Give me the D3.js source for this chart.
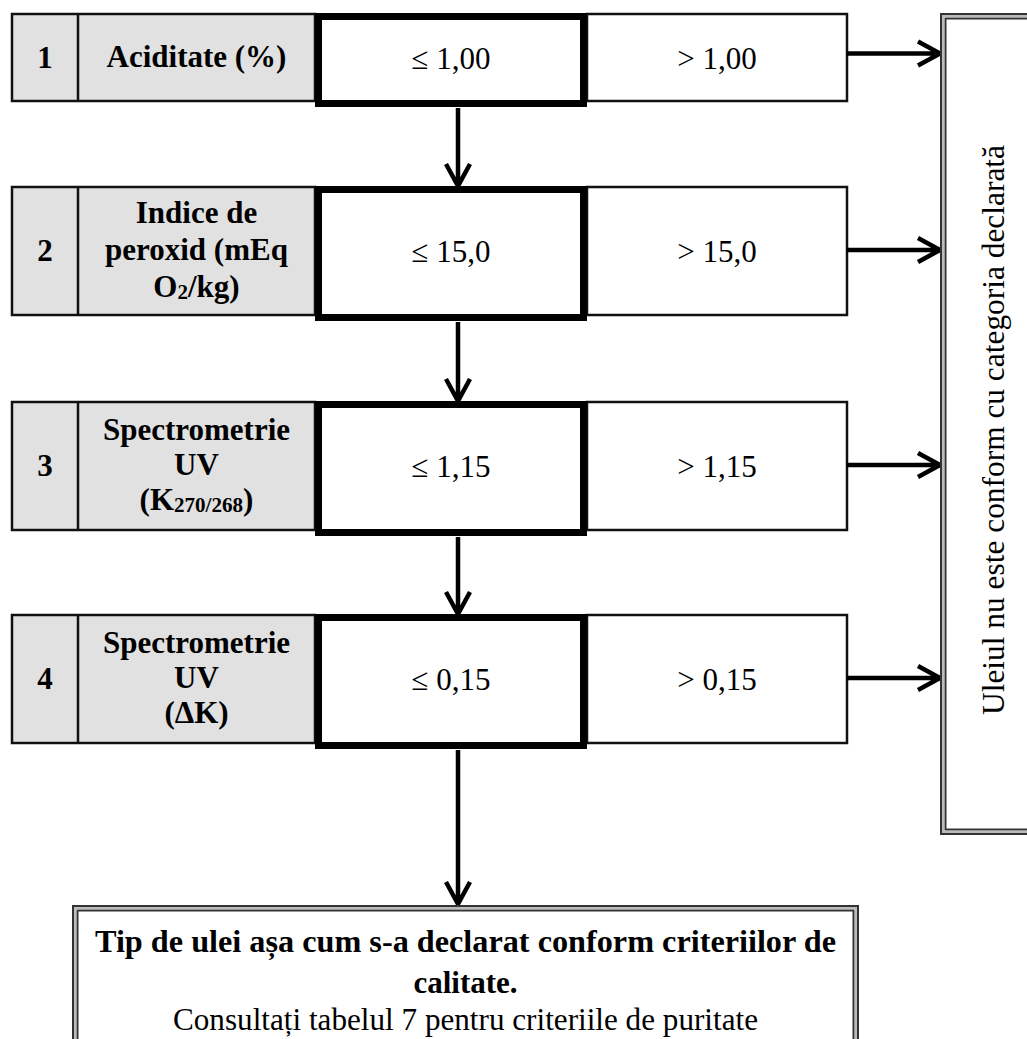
<!DOCTYPE html>
<html><head><meta charset="utf-8">
<script src="https://cdn.jsdelivr.net/npm/d3@7"></script>
<style>body{margin:0;background:#fff}svg{display:block}</style>
</head><body>
<script>
// ---- data ----
const stepNumbers = ["1","2","3","4"];
const stepLabels = [
  [["Aciditate (%)"]],
  [["Indice de"],["peroxid (mEq"],["O","2","/kg)"]],
  [["Spectrometrie"],["UV"],["(K","270/268",")"]],
  [["Spectrometrie"],["UV"],["(ΔK)"]]
];
const passValues = ["≤ 1,00","≤ 15,0","≤ 1,15","≤ 0,15"];
const failValues = ["> 1,00","> 15,0","> 1,15","> 0,15"];
const rejectText = "Uleiul nu este conform cu categoria declarată";
const finalLines = [
  {t:"Tip de ulei așa cum s-a declarat conform criteriilor de", bold:true},
  {t:"calitate.", bold:true},
  {t:"Consultați tabelul 7 pentru criteriile de puritate", bold:false}
];

// ---- layout ----
const W = 1027, H = 1039;
const rowTop = [14, 187, 402, 615];
const rowH = [87, 128, 128, 128];
const colX = d3.scaleOrdinal().domain(["num","label","pass","fail","end"]).range([12, 78, 315, 587, 847]);
const font = "'Liberation Serif','Times New Roman',serif";
const fs = 31;

const svg = d3.select("body").append("svg").attr("width", W).attr("height", H);

const rows = stepNumbers.map((n,i)=>({i, n, label: stepLabels[i], pass: passValues[i], fail: failValues[i], y: rowTop[i], h: rowH[i]}));

const g = svg.selectAll("g.row").data(rows).join("g").attr("class","row");

// number + label cells (gray)
g.append("rect").attr("x", colX("num")).attr("y", d=>d.y).attr("width", colX("pass")-colX("num")).attr("height", d=>d.h)
  .attr("fill","#e1e1e1").attr("stroke","#111").attr("stroke-width",2.5);
g.append("line").attr("x1", colX("label")).attr("x2", colX("label")).attr("y1", d=>d.y).attr("y2", d=>d.y+d.h)
  .attr("stroke","#111").attr("stroke-width",2.5);
// fail cell
g.append("rect").attr("x", colX("fail")).attr("y", d=>d.y).attr("width", colX("end")-colX("fail")).attr("height", d=>d.h)
  .attr("fill","#fff").attr("stroke","#111").attr("stroke-width",2.5);
// thick pass cell
g.append("rect").attr("x", colX("pass")+3.5).attr("y", d=>d.y+2.5).attr("width", colX("fail")-colX("pass")-7).attr("height", d=>d.h)
  .attr("fill","#fff").attr("stroke","#000").attr("stroke-width",7);

// numbers
g.append("text").attr("x", (colX("num")+colX("label"))/2).attr("y", d=>d.y+d.h/2+10)
  .attr("text-anchor","middle").attr("font-family",font).attr("font-weight","bold").attr("font-size",fs)
  .text(d=>d.n);

// labels
g.each(function(d){
  const n = d.label.length;
  const lh = d.i===1 ? 37 : 35;
  const cx = (colX("label")+colX("pass"))/2;
  const y0 = d.y + d.h/2 - (n-1)*lh/2 + 9;
  const t = d3.select(this).append("text").attr("text-anchor","middle").attr("font-family",font)
    .attr("font-weight","bold").attr("font-size",fs);
  d.label.forEach((parts,k)=>{
    parts.forEach((p,j)=>{
      const ts = t.append("tspan").text(p);
      if(j===0){ ts.attr("x",cx).attr("y", y0+k*lh); }
      if(j===1){ ts.attr("font-size", fs*0.68).attr("dy", 2); }
      if(j===2){ ts.attr("dy", -2); }
    });
  });
});

// pass/fail values
g.append("text").attr("x", (colX("pass")+colX("fail"))/2).attr("y", d=>d.y+d.h/2+11)
  .attr("text-anchor","middle").attr("font-family",font).attr("font-size",fs).text(d=>d.pass);
g.append("text").attr("x", (colX("fail")+colX("end"))/2).attr("y", d=>d.y+d.h/2+11)
  .attr("text-anchor","middle").attr("font-family",font).attr("font-size",fs).text(d=>d.fail);

// ---- arrows ----
function arrow(x1,y1,x2,y2){
  const a = Math.atan2(y2-y1,x2-x1);
  const L=22, S=12;
  const p = d3.path();
  p.moveTo(x1,y1); p.lineTo(x2,y2);
  const bx = x2 - L*Math.cos(a), by = y2 - L*Math.sin(a);
  p.moveTo(bx + S*Math.sin(a), by - S*Math.cos(a));
  p.lineTo(x2,y2);
  p.lineTo(bx - S*Math.sin(a), by + S*Math.cos(a));
  svg.append("path").attr("d",p.toString()).attr("fill","none").attr("stroke","#000")
    .attr("stroke-width",4.5).attr("stroke-linejoin","miter").attr("stroke-linecap","butt");
}
const arrowX = 458;
rows.forEach((d,i)=>{
  const yb = d.y + d.h + 7;
  const yNext = i < rows.length-1 ? rowTop[i+1] : 905;
  arrow(arrowX, yb, arrowX, yNext-1);
  const ym = d.y + d.h/2 - (i===0?4:1);
  arrow(colX("end"), ym, 940, ym);
});

// ---- double-bordered boxes ----
function doubleBox(x,y,w,h){
  svg.append("rect").attr("x",x).attr("y",y).attr("width",w).attr("height",h)
    .attr("fill","#fff").attr("stroke","#333").attr("stroke-width",2);
  svg.append("rect").attr("x",x+2).attr("y",y+2).attr("width",w-4).attr("height",h-4)
    .attr("fill","none").attr("stroke","#bbb").attr("stroke-width",2);
  svg.append("rect").attr("x",x+4.5).attr("y",y+4.5).attr("width",w-9).attr("height",h-9)
    .attr("fill","none").attr("stroke","#333").attr("stroke-width",2);
}
doubleBox(941, 14, 110, 820);
svg.append("text").attr("transform","translate(1004,430) rotate(-90)")
  .attr("text-anchor","middle").attr("font-family",font).attr("font-size",fs)
  .attr("textLength",570).attr("lengthAdjust","spacingAndGlyphs").text(rejectText);

doubleBox(73, 906, 785, 160);
const finalY = [952, 993, 1030];
const finalLen = [741, null, 585];
svg.selectAll("text.final").data(finalLines).join("text").attr("class","final")
  .attr("x", (73+858)/2).attr("y",(d,i)=>finalY[i])
  .attr("text-anchor","middle").attr("font-family",font).attr("font-size",fs)
  .attr("font-weight",d=>d.bold?"bold":"normal")
  .each(function(d,i){ if(finalLen[i]) d3.select(this).attr("textLength",finalLen[i]).attr("lengthAdjust","spacingAndGlyphs"); })
  .text(d=>d.t);
</script>
</body></html>
